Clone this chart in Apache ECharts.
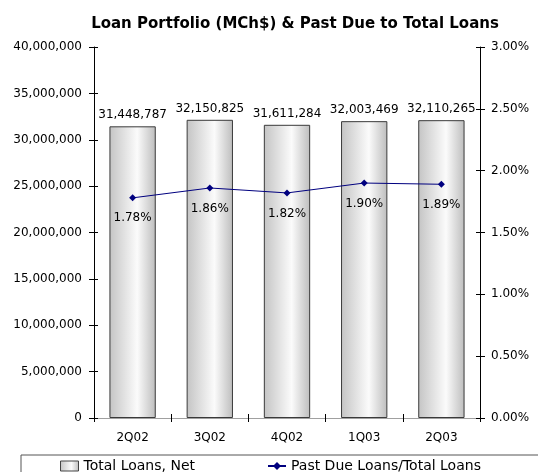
<!DOCTYPE html>
<html>
<head>
<meta charset="utf-8">
<script src="https://cdn.jsdelivr.net/npm/echarts@6/dist/echarts.min.js"></script>
<style>
  html, body { margin: 0; padding: 0; background: #ffffff; }
  #chart { width: 538px; height: 472px; }
</style>
</head>
<body>
<div id="chart"></div>
<script>
// Quarterly loan portfolio and past-due ratio
const quarters = ['2Q02', '3Q02', '4Q02', '1Q03', '2Q03'];
const totalLoans = [31448787, 32150825, 31611284, 32003469, 32110265];
const pastDueRatio = [1.78, 1.86, 1.82, 1.90, 1.89];

const FONT = 'DejaVu Sans, Verdana, sans-serif';

const barFill = new echarts.graphic.LinearGradient(0, 0, 1, 0, [
  { offset: 0, color: '#c4c4c4' },
  { offset: 0.6, color: '#fbfbfb' },
  { offset: 1, color: '#bdbdbd' }
]);

const fmtInt = v => Math.round(v).toString().replace(/\B(?=(\d{3})+(?!\d))/g, ',');

const chart = echarts.init(document.getElementById('chart'), null, { renderer: 'canvas' });

const leftBase = {
  type: 'value', min: 0, max: 40000000, interval: 5000000, position: 'left'
};
const rightBase = {
  type: 'value', min: 0, max: 3, interval: 0.5, position: 'right'
};

chart.setOption({
  animation: false,
  backgroundColor: '#ffffff',
  title: {
    text: 'Loan Portfolio (MCh$) & Past Due to Total Loans',
    left: 290, top: 12, textAlign: 'center',
    textStyle: { fontFamily: FONT, fontSize: 15, fontWeight: 'bold', color: '#000' }
  },
  grid: { left: 94, right: 58, top: 47, bottom: 54 },
  graphic: [{
    type: 'rect',
    shape: { x: 21, y: 455, width: 530, height: 30 },
    style: { fill: 'none', stroke: '#555', lineWidth: 1 },
    silent: true
  }],
  legend: {
    top: 454, left: 55, itemGap: 72,
    itemWidth: 18, itemHeight: 10,
    textStyle: { fontFamily: FONT, fontSize: 14, color: '#000' },
    data: [
      { name: 'Total Loans, Net', icon: 'rect',
        itemStyle: { color: barFill, borderColor: '#444', borderWidth: 1 } },
      { name: 'Past Due Loans/Total Loans' }
    ]
  },
  xAxis: [
    {
      type: 'category', data: quarters, position: 'bottom',
      axisLine: { lineStyle: { color: '#707070', width: 1 } },
      axisTick: { show: true, length: 4, lineStyle: { color: '#000' } },
      axisLabel: { fontFamily: FONT, fontSize: 12, color: '#000', margin: 14 }
    },
    {
      type: 'category', data: quarters, position: 'bottom',
      axisLine: { show: false },
      axisTick: { show: true, inside: true, length: 4, lineStyle: { color: '#000' } },
      axisLabel: { show: false }
    },
    {
      type: 'category', data: quarters, position: 'top',
      axisLine: { lineStyle: { color: '#a0a0a0', width: 1 } },
      axisTick: { show: false }, axisLabel: { show: false }
    }
  ],
  yAxis: [
    Object.assign({}, leftBase, {
      axisLine: { show: true, lineStyle: { color: '#000' } },
      axisTick: { show: true, length: 5, lineStyle: { color: '#000' } },
      splitLine: { show: false },
      axisLabel: { fontFamily: FONT, fontSize: 12, color: '#000', margin: 12, formatter: fmtInt }
    }),
    Object.assign({}, rightBase, {
      axisLine: { show: true, lineStyle: { color: '#000' } },
      axisTick: { show: true, length: 5, lineStyle: { color: '#000' } },
      splitLine: { show: false },
      axisLabel: { fontFamily: FONT, fontSize: 12, color: '#000', margin: 11,
        formatter: v => v.toFixed(2) + '%' }
    }),
    Object.assign({}, leftBase, {
      axisLine: { show: false }, splitLine: { show: false }, axisLabel: { show: false },
      axisTick: { show: true, inside: true, length: 4, lineStyle: { color: '#000' } }
    }),
    Object.assign({}, rightBase, {
      axisLine: { show: false }, splitLine: { show: false }, axisLabel: { show: false },
      axisTick: { show: true, inside: true, length: 4, lineStyle: { color: '#000' } }
    })
  ],
  series: [
    {
      name: 'Total Loans, Net',
      type: 'bar',
      xAxisIndex: 0, yAxisIndex: 0,
      data: totalLoans,
      barCategoryGap: '40%',
      itemStyle: { color: barFill, borderColor: '#3a3a3a', borderWidth: 1 },
      label: {
        show: true, position: 'top', distance: 5,
        fontFamily: FONT, fontSize: 12, color: '#000',
        formatter: p => fmtInt(p.value)
      }
    },
    {
      name: 'Past Due Loans/Total Loans',
      type: 'line',
      xAxisIndex: 0, yAxisIndex: 1,
      data: pastDueRatio,
      symbol: 'diamond', symbolSize: 7,
      lineStyle: { color: '#00007f', width: 1 },
      itemStyle: { color: '#00007f' },
      label: {
        show: true, position: 'bottom', distance: 11,
        fontFamily: FONT, fontSize: 12, color: '#000',
        formatter: p => p.value.toFixed(2) + '%'
      },
      z: 5
    }
  ]
});
</script>
</body>
</html>
